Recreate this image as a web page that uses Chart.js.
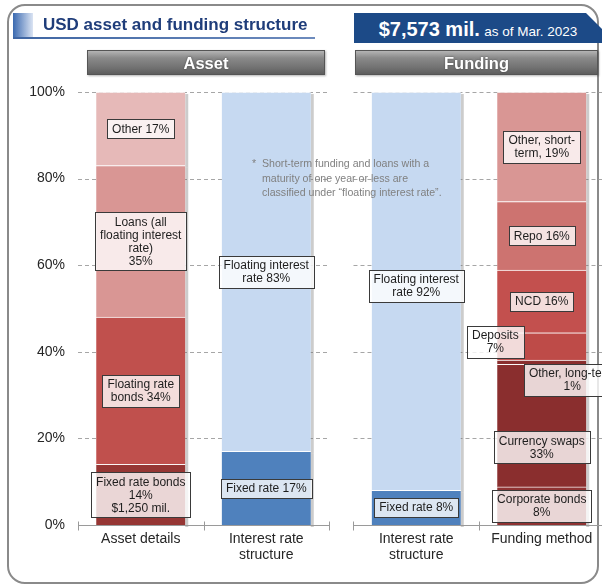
<!DOCTYPE html>
<html>
<head>
<meta charset="utf-8">
<script src="https://cdn.jsdelivr.net/npm/chart.js@4.4.0/dist/chart.umd.min.js"></script>
<style>
  html, body { margin: 0; padding: 0; background: #fff; }
  body { width: 602px; height: 585px; position: relative; overflow: hidden; font-family: "Liberation Sans", Arial, sans-serif; }
  #frame { position: absolute; left: 7px; top: 4px; width: 592px; height: 580px; box-sizing: border-box; border: 2px solid #8a8a8a; border-radius: 18px; }
  #chart { position: absolute; left: 0; top: 0; z-index: 1; }
  #mark { position: absolute; left: 13px; top: 13px; width: 20px; height: 24px; background: linear-gradient(to right, #3a69b0, #dbe4f3); z-index: 2; }
  #title { position: absolute; left: 43px; top: 15px; font-size: 17px; font-weight: bold; color: #1f3d7a; white-space: nowrap; z-index: 2; }
  #rule { position: absolute; left: 13px; top: 37px; width: 302px; height: 2px; background: linear-gradient(to right, #3f66a3, #6d8bbd); z-index: 2; }
  #total { position: absolute; left: 354px; top: 13px; width: 248px; height: 30px; line-height: 32px; background: #1c4a87; color: #fff; text-align: center; white-space: nowrap; z-index: 2;
           clip-path: polygon(0 0, 232px 0, 248px 16px, 248px 100%, 0 100%); }
  #total b { font-size: 20px; }
  #total span { font-size: 13.5px; }
  .btn { position: absolute; top: 50px; height: 25px; line-height: 25px; box-sizing: border-box; border: 1px solid #555; color: #fff; font-weight: bold; font-size: 16.5px; text-align: center; z-index: 2;
         background: linear-gradient(#b4b4b4 0%, #8a8a8a 30%, #737373 70%, #5e5e5e 100%); text-shadow: 0 0 2px #444; box-shadow: 1px 1px 2px rgba(0,0,0,0.3); }
  #note { position: absolute; left: 262px; top: 156px; font-size: 10.6px; line-height: 14.5px; color: #808080; white-space: nowrap; z-index: 2; }
  #note i { position: absolute; left: -10px; top: 0; font-style: normal; }
</style>
</head>
<body>
<div id="frame"></div>
<div id="mark"></div>
<div id="title">USD asset and funding structure</div>
<div id="rule"></div>
<div id="total"><b>$7,573 mil.</b> <span>as of Mar. 2023</span></div>
<div class="btn" style="left:87px;width:238px;">Asset</div>
<div class="btn" style="left:355px;width:243px;">Funding</div>
<canvas id="chart" width="602" height="585"></canvas>
<div id="note"><i>*</i>Short-term funding and loans with a<br>maturity of one year or less are<br>classified under “floating interest rate”.</div>
<script>
// data
const categories = ['Asset details', ['Interest rate', 'structure'], ['Interest rate', 'structure'], 'Funding method'];
const yTicks = [0, 20, 40, 60, 80, 100];

const assetNames = ['Fixed rate bonds', 'Floating rate bonds', 'Loans', 'Other'];
const assetValues = [14, 34, 35, 17];

const assetRateNames = ['Fixed rate', 'Floating interest rate'];
const assetRateValues = [17, 83];

const fundingRateNames = ['Fixed rate', 'Floating interest rate'];
const fundingRateValues = [8, 92];

const fundingNames = ['Corporate bonds', 'Currency swaps', 'Other, long-term', 'Deposits', 'NCD', 'Repo', 'Other, short-term'];
const fundingValues = [8.8, 28.3, 1.0, 6.3, 14.5, 15.8, 25.3];

// layout / style
const catPos = [0, 1, 2.195, 3.195];
const groups = [[-0.5, 1.5], [1.695, 3.695]];
const FONT = '"Liberation Sans", Arial, sans-serif';
const redShades = ['#963634', '#C0504D', '#D99694', '#E6B9B8'];
const blueShades = ['#4F81BD', '#C6D9F1'];
const fundingShades = ['#8F3232', '#8A2E2E', '#8A2E2E', '#BE4B48', '#C3504E', '#CD7370', '#D99694'];

function stack(names, values, colors, pos) {
  return names.map((n, i) => ({
    label: n,
    data: [{ x: pos, y: values[i] }],
    backgroundColor: colors[i],
    borderColor: 'rgba(255,255,255,0.85)',
    borderWidth: { top: 1, left: 0, right: 0, bottom: 0 },
    borderSkipped: false,
    barThickness: 89
  }));
}

const datasets = [
  ...stack(assetNames, assetValues, redShades, catPos[0]),
  ...stack(assetRateNames, assetRateValues, blueShades, catPos[1]),
  ...stack(fundingRateNames, fundingRateValues, blueShades, catPos[2]),
  ...stack(fundingNames, fundingValues, fundingShades, catPos[3])
];

// boxed labels, by dataset index; dx in category units, dy in %
const boxes = [
  { ds: 3, lines: ['Other 17%'] },
  { ds: 2, lines: ['Loans (all', 'floating interest', 'rate)', '35%'] },
  { ds: 1, lines: ['Floating rate', 'bonds 34%'] },
  { ds: 0, lines: ['Fixed rate bonds', '14%', '$1,250 mil.'] },
  { ds: 5, lines: ['Floating interest', 'rate 83%'] },
  { ds: 4, lines: ['Fixed rate 17%'] },
  { ds: 7, lines: ['Floating interest', 'rate 92%'], dy: 1.2 },
  { ds: 6, lines: ['Fixed rate 8%'] },
  { ds: 14, lines: ['Other, short-', 'term, 19%'] },
  { ds: 13, lines: ['Repo 16%'] },
  { ds: 12, lines: ['NCD 16%'] },
  { ds: 11, lines: ['Deposits', '7%'], dx: -0.37, dy: 1.1 },
  { ds: 10, lines: ['Other, long-term', '1%'], dx: 0.243, dy: -4.1 },
  { ds: 9, lines: ['Currency swaps', '33%'], dy: -5 },
  { ds: 8, lines: ['Corporate bonds', '8%'] }
];

const decor = {
  id: 'decor',
  beforeDatasetsDraw(chart) {
    const { ctx, scales: { x, y } } = chart;
    ctx.save();
    // dashed grid per group
    ctx.strokeStyle = '#a6a6a6';
    ctx.lineWidth = 1;
    ctx.setLineDash([4, 3]);
    groups.forEach(([a, b]) => {
      yTicks.slice(1).forEach(t => {
        const py = Math.round(y.getPixelForValue(t)) + 0.5;
        ctx.beginPath();
        ctx.moveTo(x.getPixelForValue(a), py);
        ctx.lineTo(x.getPixelForValue(b), py);
        ctx.stroke();
      });
    });
    ctx.setLineDash([]);
    // bar shadows
    ctx.fillStyle = 'rgba(110,110,110,0.35)';
    chart.data.datasets.forEach((d, i) => {
      chart.getDatasetMeta(i).data.forEach(el => {
        ctx.fillRect(el.x + el.width / 2, el.y + 2, 3, el.base - el.y);
      });
    });
    ctx.restore();
  },
  afterDatasetsDraw(chart) {
    const { ctx, scales: { x, y } } = chart;
    const unitX = x.getPixelForValue(1) - x.getPixelForValue(0);
    const unitY = y.getPixelForValue(0) - y.getPixelForValue(1);
    ctx.save();
    // baseline with ticks
    ctx.strokeStyle = '#9a9a9a';
    ctx.lineWidth = 1;
    const by = Math.round(y.getPixelForValue(0)) + 0.5;
    groups.forEach(([a, b]) => {
      ctx.beginPath();
      ctx.moveTo(x.getPixelForValue(a), by);
      ctx.lineTo(x.getPixelForValue(b), by);
      for (let v = a; v <= b + 0.001; v += 1) {
        const px = Math.round(x.getPixelForValue(v)) + 0.5;
        ctx.moveTo(px, by - 4);
        ctx.lineTo(px, by + 5);
      }
      ctx.stroke();
    });
    // boxed labels
    ctx.font = '12px ' + FONT;
    ctx.textAlign = 'center';
    ctx.textBaseline = 'middle';
    const lh = 13;
    boxes.forEach(b => {
      const el = chart.getDatasetMeta(b.ds).data[0];
      const cx = el.x + (b.dx || 0) * unitX;
      const cy = (el.y + el.base) / 2 - (b.dy || 0) * unitY;
      const w = Math.max(...b.lines.map(s => ctx.measureText(s).width)) + 10;
      const h = b.lines.length * lh + 6;
      const left = Math.round(cx - w / 2) + 0.5;
      const top = Math.round(cy - h / 2) + 0.5;
      ctx.fillStyle = 'rgba(255,255,255,0.8)';
      ctx.fillRect(left, top, Math.round(w), Math.round(h));
      ctx.strokeStyle = '#3a3a3a';
      ctx.strokeRect(left, top, Math.round(w), Math.round(h));
      ctx.fillStyle = '#1e1e1e';
      b.lines.forEach((s, i) => {
        ctx.fillText(s, cx, cy + (i - (b.lines.length - 1) / 2) * lh + 0.5);
      });
    });
    ctx.restore();
  }
};

new Chart(document.getElementById('chart'), {
  type: 'bar',
  data: { datasets: datasets },
  plugins: [decor],
  options: {
    responsive: false,
    animation: false,
    layout: { padding: { top: 92, right: 2, left: 0, bottom: 0 } },
    plugins: { legend: { display: false }, tooltip: { enabled: false } },
    scales: {
      x: {
        type: 'linear',
        stacked: true,
        offset: false,
        min: -0.5,
        max: 3.659,
        grid: { display: false, offset: false, drawTicks: false },
        border: { display: false },
        afterBuildTicks: s => { s.ticks = catPos.map(v => ({ value: v })); },
        afterFit: s => { s.height = 60; },
        ticks: {
          autoSkip: false,
          maxRotation: 0,
          padding: 6,
          color: '#262626',
          font: { family: FONT, size: 14, lineHeight: 1.15 },
          callback: (v, i) => categories[i]
        }
      },
      y: {
        stacked: true,
        min: 0,
        max: 100,
        grid: { display: false, drawTicks: false },
        border: { display: false },
        afterFit: s => { s.width = 78; },
        ticks: {
          stepSize: 20,
          padding: 13,
          color: '#262626',
          font: { family: FONT, size: 14 },
          callback: v => v + '%'
        }
      }
    }
  }
});
</script>
</body>
</html>
